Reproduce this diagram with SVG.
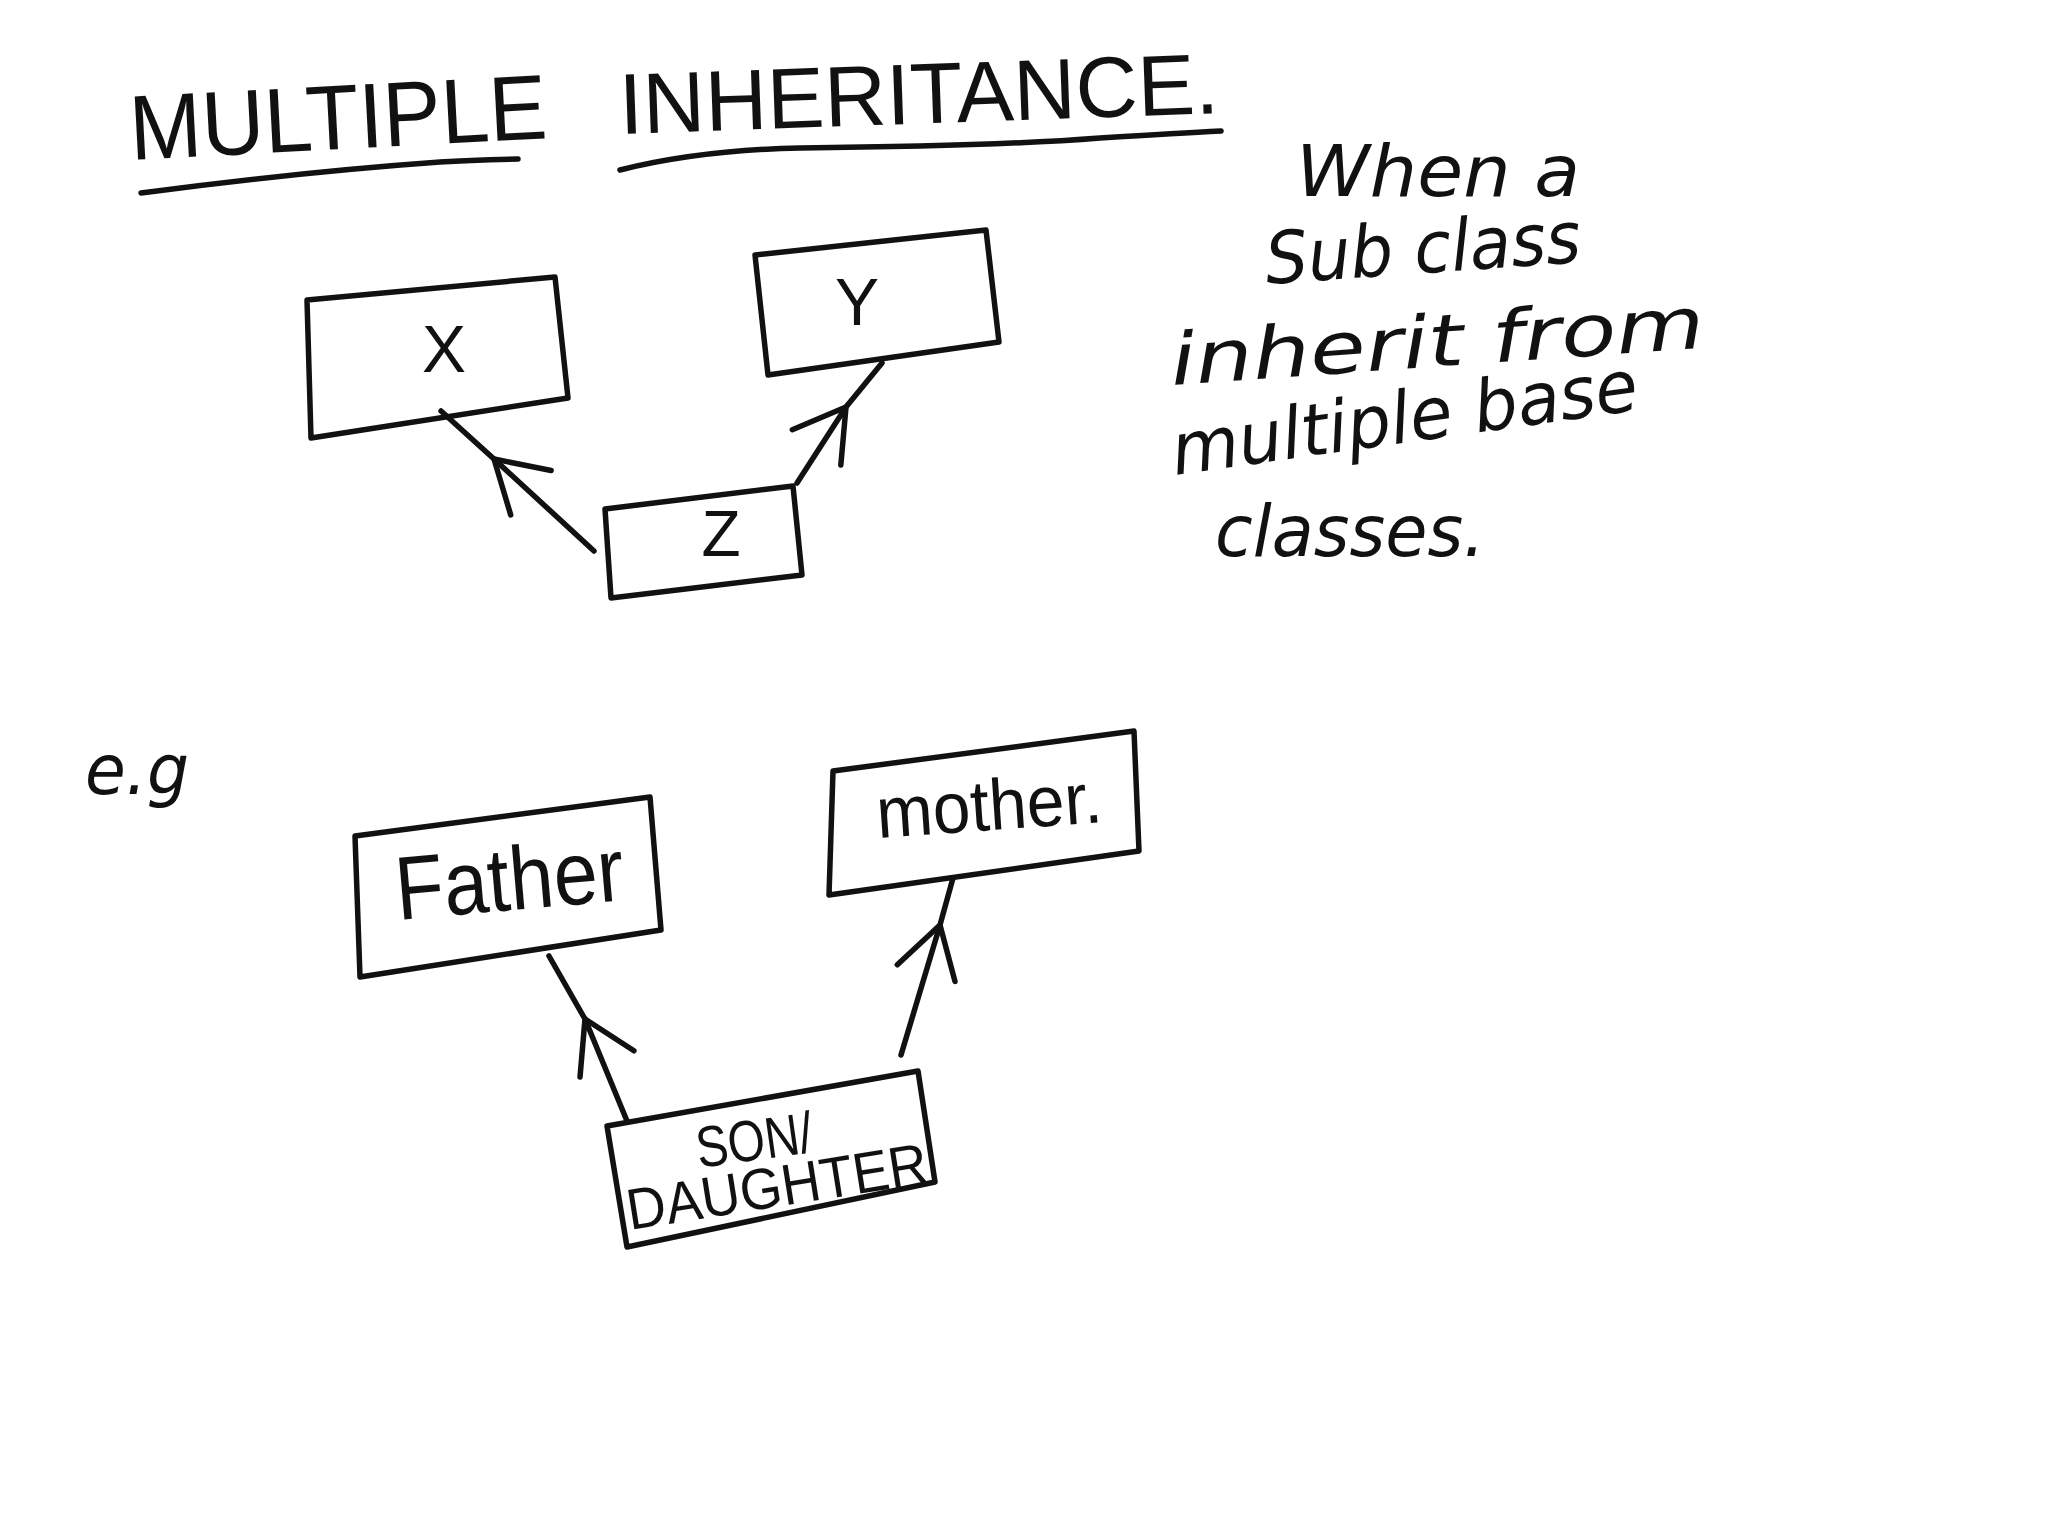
<svg xmlns="http://www.w3.org/2000/svg" width="2048" height="1536" viewBox="0 0 2048 1536">
<defs>
<style>
.ink{fill:none;stroke:#111;stroke-width:5.5;stroke-linecap:round;stroke-linejoin:round}
.t{font-family:"Liberation Sans","DejaVu Sans",sans-serif;fill:#111}
.hand{font-family:"DejaVu Sans","Liberation Sans",sans-serif;fill:#111;font-style:italic}
</style>
<marker id="chev" markerUnits="userSpaceOnUse" markerWidth="140" markerHeight="140" refX="0" refY="0" viewBox="-70 -70 140 140" orient="auto" overflow="visible">
<path d="M-50 -30 L0 0 L-50 30" fill="none" stroke="#111" stroke-width="5.5" stroke-linecap="round" stroke-linejoin="round"/>
</marker>
</defs>
<rect width="2048" height="1536" fill="#fff"/>

<g id="title">
<text class="t" x="131" y="160" font-size="92" textLength="418" lengthAdjust="spacingAndGlyphs" transform="rotate(-3 131 160)">MULTIPLE</text>
<text class="t" x="620" y="134" font-size="86" textLength="600" lengthAdjust="spacingAndGlyphs" transform="rotate(-2 620 134)">INHERITANCE.</text>
<path class="ink" d="M141 193 Q300 172 440 162 Q470 160 518 159"/>
<path class="ink" d="M620 170 Q700 150 800 148 Q1000 146 1100 138 Q1180 133 1221 131"/>
</g>

<g id="definition">
<text class="hand" x="1296" y="196" font-size="72" textLength="284" lengthAdjust="spacingAndGlyphs">When a</text>
<text class="hand" x="1267" y="284" font-size="72" textLength="316" lengthAdjust="spacingAndGlyphs" transform="rotate(-4 1267 284)">Sub class</text>
<text class="hand" x="1172" y="385" font-size="72" textLength="535" lengthAdjust="spacingAndGlyphs" transform="rotate(-4 1172 385)">inherit from</text>
<text class="hand" x="1175" y="475" font-size="72" textLength="470" lengthAdjust="spacingAndGlyphs" transform="rotate(-8 1175 475)">multiple base</text>
<text class="hand" x="1215" y="556" font-size="72" textLength="270" lengthAdjust="spacingAndGlyphs">classes.</text>
</g>

<g id="eg">
<text class="hand" x="85" y="794" font-size="70" textLength="104" lengthAdjust="spacingAndGlyphs">e.g</text>
</g>

<g id="node-x">
<path class="ink" d="M307 300 L555 277 L568 398 L311 438 Z"/>
<text class="t" x="444" y="372" font-size="66" text-anchor="middle">X</text>
</g>
<g id="node-y">
<path class="ink" d="M755 255 L986 230 L999 342 L768 375 Z"/>
<text class="t" x="857" y="325" font-size="66" text-anchor="middle">Y</text>
</g>
<g id="node-z">
<path class="ink" d="M605 509 L793 486 L802 575 L611 598 Z"/>
<text class="t" x="721" y="556" font-size="64" text-anchor="middle">Z</text>
</g>

<g id="node-father">
<path class="ink" d="M355 836 L650 797 L661 930 L360 977 Z"/>
<text class="t" x="398" y="920" font-size="90" textLength="229" lengthAdjust="spacingAndGlyphs" transform="rotate(-5 398 920)">Father</text>
</g>
<g id="node-mother">
<path class="ink" d="M833 771 L1134 731 L1139 851 L829 895 Z"/>
<text class="t" x="878" y="838" font-size="72" textLength="226" lengthAdjust="spacingAndGlyphs" transform="rotate(-4 878 838)">mother.</text>
</g>
<g id="node-son">
<path class="ink" d="M607 1126 L918 1071 L935 1182 L627 1247 Z"/>
<text class="t" x="699" y="1168" font-size="58" textLength="117" lengthAdjust="spacingAndGlyphs" transform="rotate(-8 699 1168)">SON/</text>
<text class="t" x="630" y="1230" font-size="58" textLength="304" lengthAdjust="spacingAndGlyphs" transform="rotate(-9 630 1230)">DAUGHTER</text>
</g>

<g id="connectors">
<path class="ink" marker-mid="url(#chev)" d="M594 551 L494 459 L441 411"/>
<path class="ink" marker-mid="url(#chev)" d="M797 483 L846 407 L882 363"/>
<path class="ink" marker-mid="url(#chev)" d="M627 1121 L585 1019 L549 956"/>
<path class="ink" marker-mid="url(#chev)" d="M901 1055 L940 925 L953 878"/>
</g>
</svg>
